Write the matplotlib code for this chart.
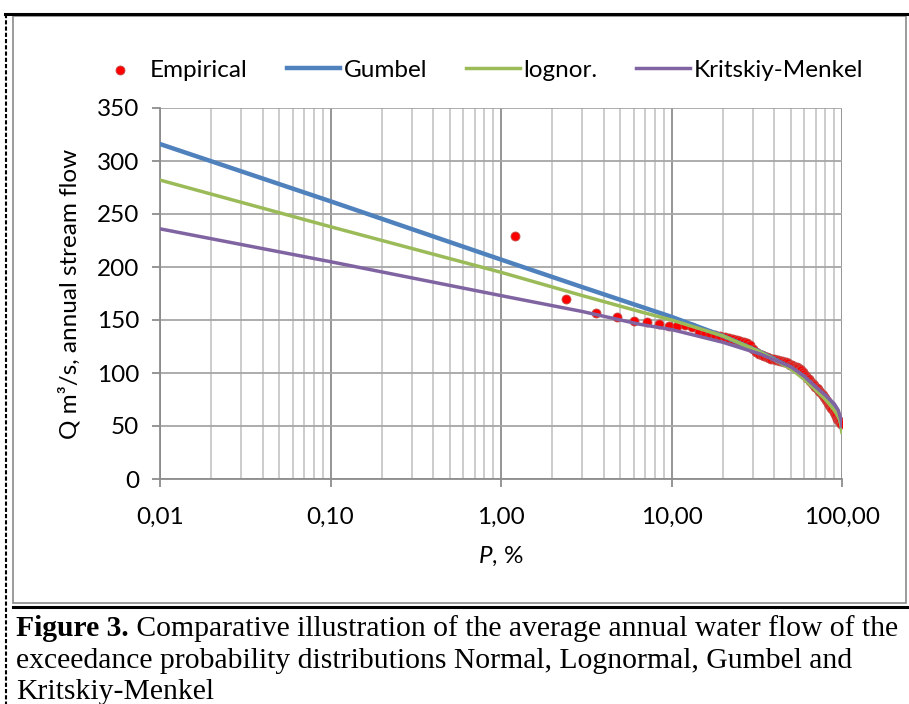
import matplotlib.pyplot as plt
from matplotlib.lines import Line2D
from matplotlib.patches import Rectangle
from matplotlib.ticker import FixedLocator, NullFormatter

########################################################################################################################
## data
########################################################################################################################
# empirical points: exceedance probability, % and flow, m3/s
P_emp = [1.20, 2.41, 3.61, 4.82, 6.02, 7.23, 8.43, 9.64, 10.84, 12.05,
         13.25, 14.46, 15.66, 16.87, 18.07, 19.28, 20.48, 21.69, 22.89, 24.10,
         25.30, 26.51, 27.71, 28.92, 30.12, 31.33, 32.53, 33.73, 34.94, 36.14,
         37.35, 38.55, 39.76, 40.96, 42.17, 43.37, 44.58, 45.78, 46.99, 48.19,
         49.40, 50.60, 51.81, 53.01, 54.22, 55.42, 56.63, 57.83, 59.04, 60.24,
         61.45, 62.65, 63.86, 65.06, 66.27, 67.47, 68.67, 69.88, 71.08, 72.29,
         73.49, 74.70, 75.90, 77.11, 78.31, 79.52, 80.72, 81.93, 83.13, 84.34,
         85.54, 86.75, 87.95, 89.16, 90.36, 91.57, 92.77, 93.98, 95.18, 96.39,
         97.59, 98.80]
Q_emp = [229, 170, 157, 153, 149, 148, 146, 144, 144, 145,
         143, 139, 138, 137, 136, 135, 134, 133, 132, 131,
         130, 129, 128, 126, 123, 120, 118, 117, 116, 115,
         114, 113, 113, 112, 112, 111, 111, 110, 110, 109,
         108, 108, 107, 106, 106, 105, 104, 103, 101, 99,
         97, 95, 94, 92, 91, 90, 89, 87, 86, 85,
         83, 82, 80, 79, 77, 76, 75, 74, 72, 70,
         69, 67, 66, 64, 63, 61, 59, 57, 56, 55,
         54, 52]

# theoretical curves, sampled at these probabilities
P_fit = [0.01, 0.1, 1, 3, 6.5, 10, 20, 33, 50, 60, 70, 80, 90, 95, 97, 99, 99.5, 99.9]
Q_gumbel = [316, 262, 207, 181, 163, 153, 135, 120, 105, 96, 86, 77, 67, 61, 57, 52, 50, 47]
Q_lognor = [282, 238, 195, 173, 158, 150, 135, 120, 104, 94, 84, 75, 65, 59, 56, 50, 47, 44]
Q_km = [236, 205, 173, 158, 146, 141, 129, 118, 106, 97, 87, 79, 71, 65, 60, 55, 52, 50]

x_ticks = [0.01, 0.1, 1, 10, 100]
x_ticklabels = ['0,01', '0,10', '1,00', '10,00', '100,00']
y_ticks = [0, 50, 100, 150, 200, 250, 300, 350]

caption_bold = 'Figure 3.'
caption_lines = [' Comparative illustration of the average annual water flow of the',
                 'exceedance probability distributions Normal, Lognormal, Gumbel and',
                 'Kritskiy-Menkel']

########################################################################################################################
plt.rcParams['font.family'] = ['Lato', 'DejaVu Sans']
plt.rcParams['mathtext.fontset'] = 'custom'
plt.rcParams['mathtext.rm'] = 'Lato'
plt.rcParams['mathtext.it'] = 'Lato:italic'

FS = 17.5
W, H = 909, 704
fig = plt.figure(figsize=(W / 100, H / 100), dpi=100, facecolor='w')


def fx(x):
    return x / W


def fy(y):
    return 1 - y / H


## page decoration: chart box, thick rules, dashed left margin
fig.add_artist(Rectangle((fx(13), fy(603)), fx(906) - fx(13), fy(16) - fy(603),
                         transform=fig.transFigure, fill=False, edgecolor='#8a8a8a', lw=1.2))
fig.add_artist(Line2D([fx(5), fx(909)], [fy(14), fy(14)], transform=fig.transFigure, color='k', lw=2.2))
fig.add_artist(Line2D([fx(13), fx(909)], [fy(607), fy(607)], transform=fig.transFigure, color='k', lw=2.2))
fig.add_artist(Line2D([fx(6), fx(6)], [fy(14), fy(704)], transform=fig.transFigure, color='k', lw=1.5,
                      linestyle=(0, (2, 1))))

ax = fig.add_axes([fx(160), fy(479), fx(842) - fx(160), fy(108) - fy(479)])
ax.set_xscale('log')

ax.scatter(P_emp, Q_emp, s=42, color='#ff0000', edgecolors='#c0504d', linewidths=0.6, zorder=3, label='Empirical')
ax.plot(P_fit, Q_gumbel, color='#4f81bd', lw=3.2, zorder=4, label='Gumbel')
ax.plot(P_fit, Q_lognor, color='#9bbb59', lw=2.5, zorder=4, label='lognor.')
ax.plot(P_fit, Q_km, color='#8064a2', lw=2.5, zorder=4, label='Kritskiy-Menkel')

ax.set_xlim(0.01, 100)
ax.set_ylim(0, 350)
ax.set_xticks(x_ticks, x_ticklabels)
ax.xaxis.set_minor_locator(FixedLocator([m * 10.0 ** e for e in range(-2, 2) for m in range(2, 10)]))
ax.xaxis.set_minor_formatter(NullFormatter())
ax.set_yticks(y_ticks)

ax.grid(which='major', axis='x', color='#8c8c8c', lw=1.3)
ax.grid(which='minor', axis='x', color='#bfbfbf', lw=1.1)
ax.grid(which='major', axis='y', color='#a6a6a6', lw=1.3)
ax.set_axisbelow(True)

for s in ['top', 'right']:
    ax.spines[s].set_visible(False)
for s in ['left', 'bottom']:
    ax.spines[s].set_color('#8c8c8c')
    ax.spines[s].set_linewidth(1.3)

ax.tick_params(axis='both', which='major', labelsize=FS, color='#8c8c8c', length=6, width=1.3)
ax.tick_params(axis='x', which='major', pad=14)
ax.tick_params(axis='y', which='major', pad=9)
ax.tick_params(axis='x', which='minor', length=0)

ax.set_xlabel(r'$\mathit{P}$, %', fontsize=FS, labelpad=12)
ax.set_ylabel('Q m\u00b3/s, annual stream flow', fontsize=FS, labelpad=12)

fig.legend(loc='center', bbox_to_anchor=(fx(478), fy(70)), ncol=4, frameon=False, fontsize=FS,
           handlelength=2.2, handletextpad=0.15, columnspacing=1.6, scatterpoints=1)

## caption with bold lead-in
fig.canvas.draw()
renderer = fig.canvas.get_renderer()
t0 = fig.text(fx(16), fy(629), caption_bold, fontsize=21.3, fontweight='bold',
              family='Liberation Serif', va='center', ha='left')
bb = t0.get_window_extent(renderer=renderer)
fig.text(bb.x1 / W, fy(629), caption_lines[0], fontsize=21.3, family='Liberation Serif', va='center', ha='left')
fig.text(fx(16), fy(661), caption_lines[1], fontsize=21.3, family='Liberation Serif', va='center', ha='left')
fig.text(fx(16), fy(692), caption_lines[2], fontsize=21.3, family='Liberation Serif', va='center', ha='left')

plt.savefig('out.png', dpi=100, facecolor='w')
